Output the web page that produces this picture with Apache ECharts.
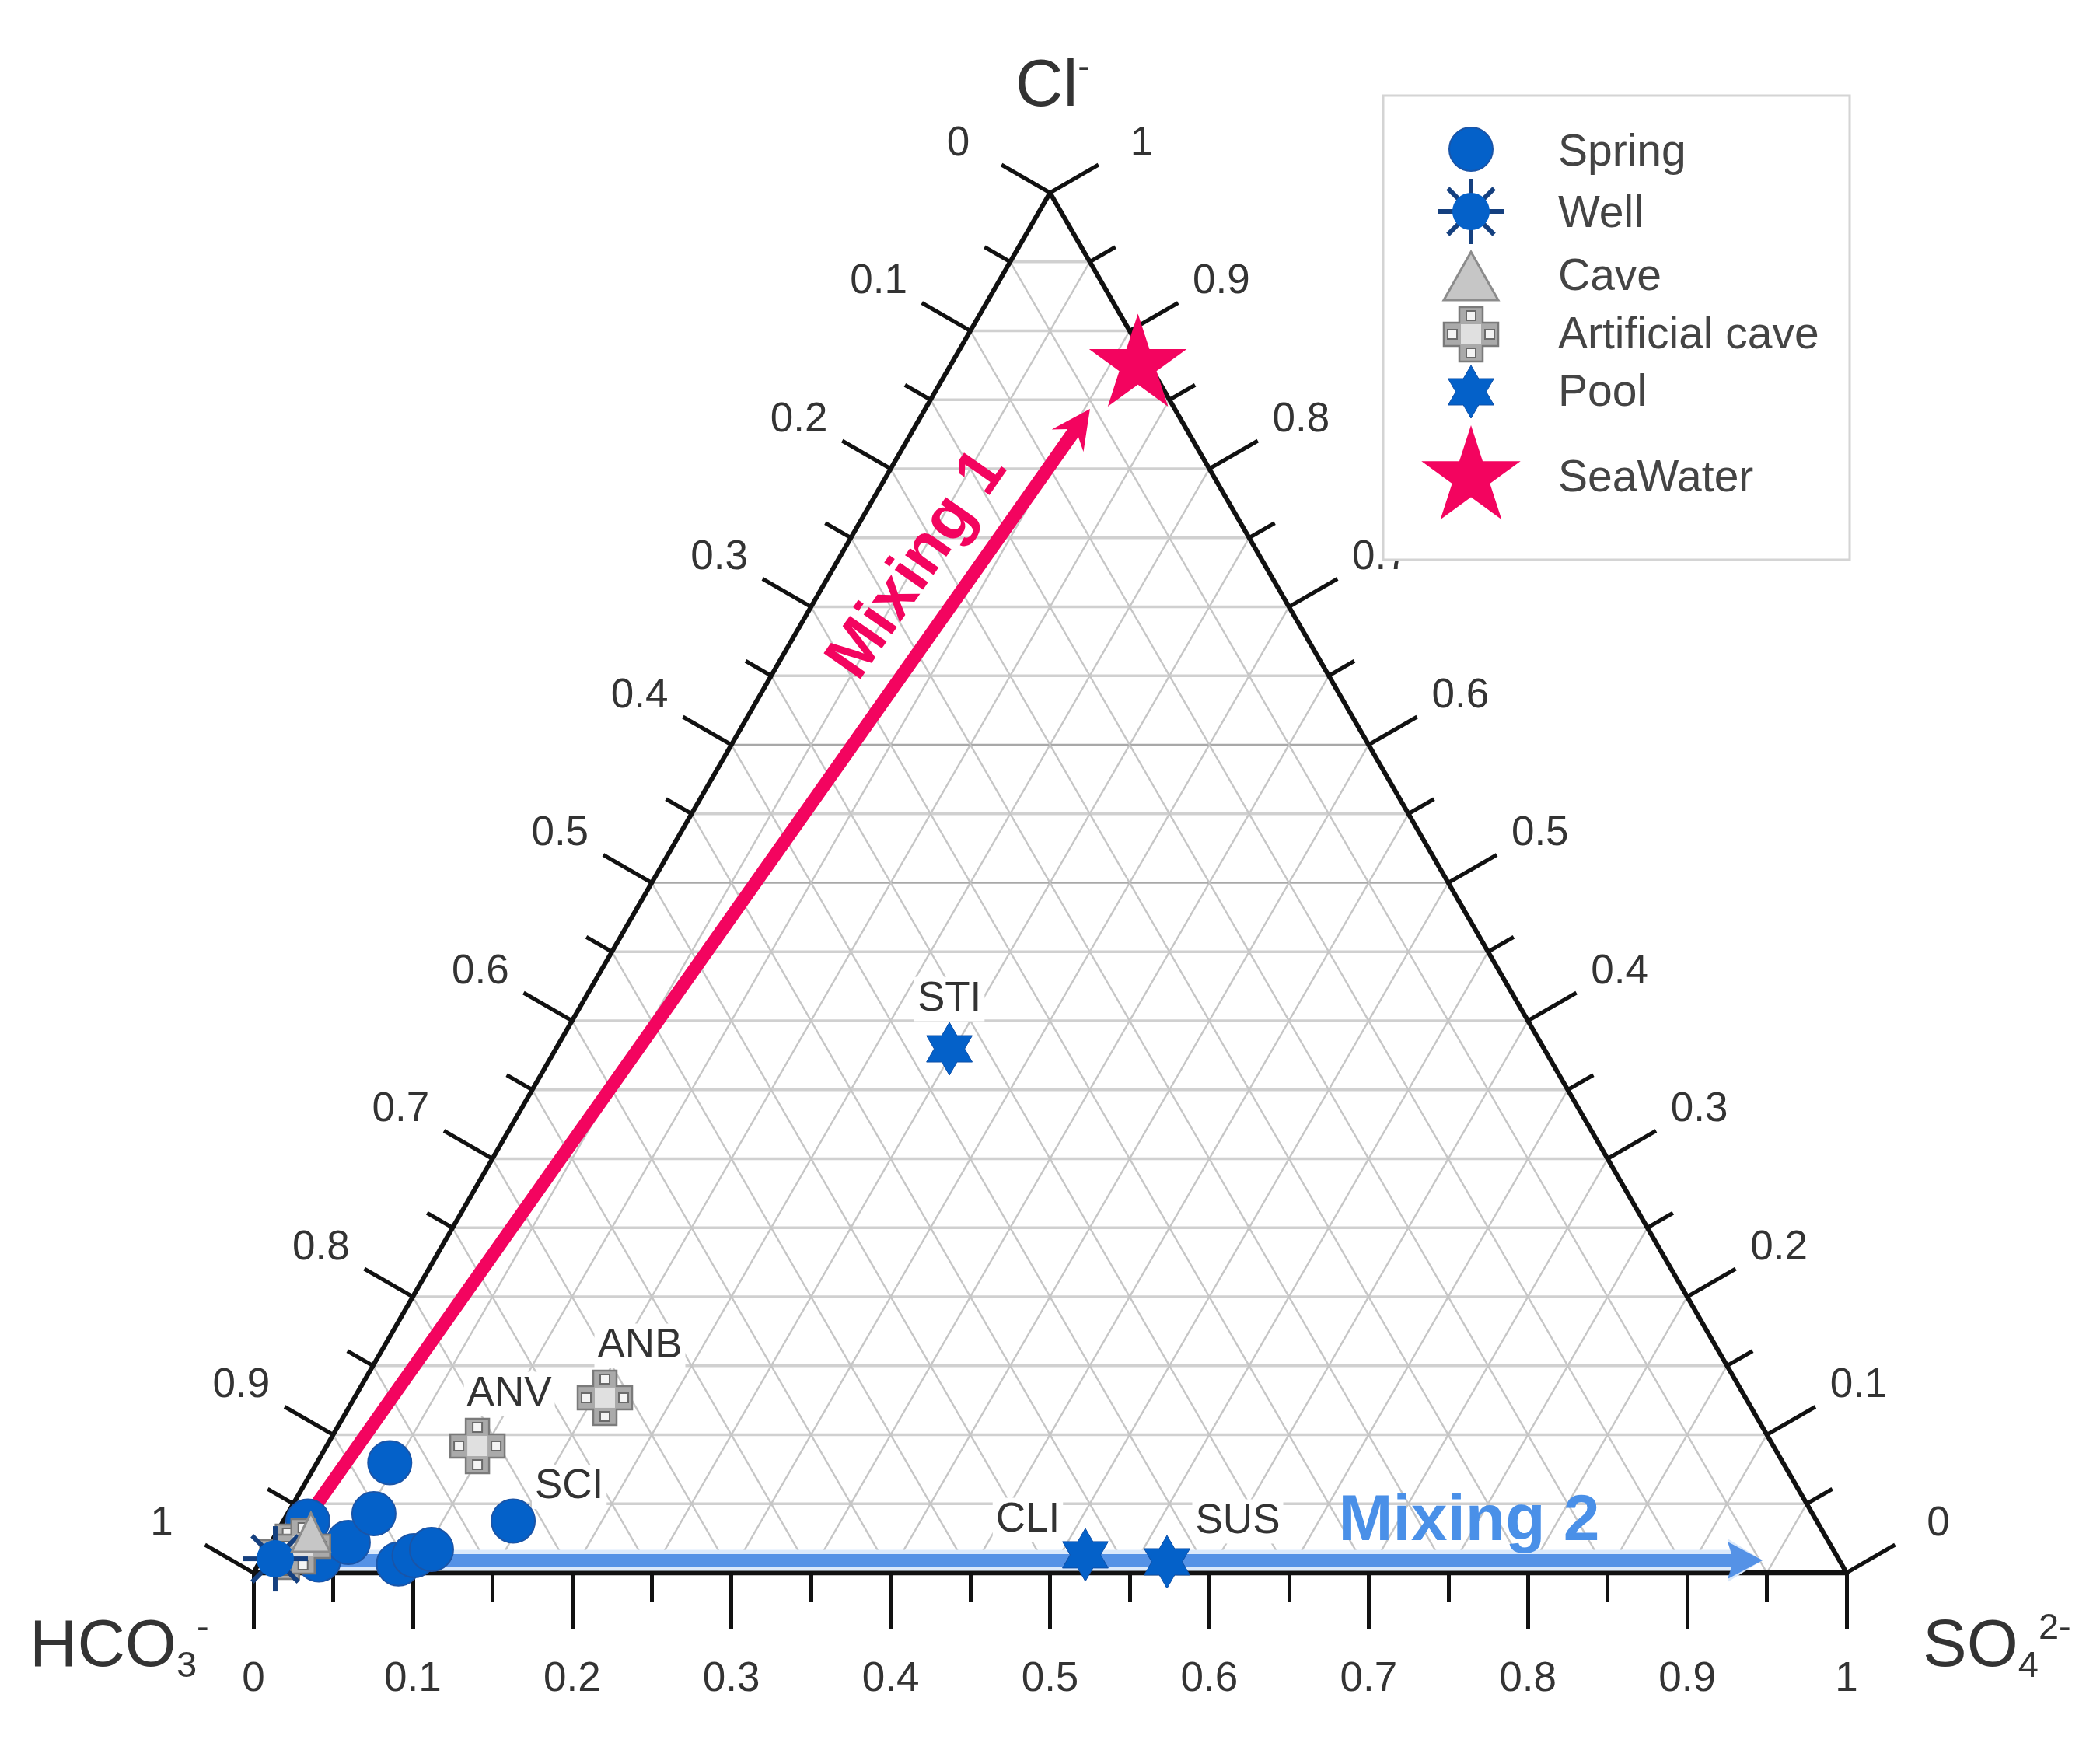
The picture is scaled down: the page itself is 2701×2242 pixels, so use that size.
<!DOCTYPE html>
<html><head><meta charset="utf-8">
<style>html,body{margin:0;padding:0;background:#fff}#c{width:2701px;height:2242px}</style>
<script src="https://cdn.jsdelivr.net/npm/echarts@6/dist/echarts.min.js"></script>
</head><body><div id="c"></div>
<script>
// ---- data: ternary fractions [SO4, Cl] ----
const bottomTicks = ['0','0.1','0.2','0.3','0.4','0.5','0.6','0.7','0.8','0.9','1'];
const leftTicks   = ['0','0.1','0.2','0.3','0.4','0.5','0.6','0.7','0.8','0.9','1'];
const rightTicks  = ['1','0.9','0.8','0.7','0.6','0.5','0.4','0.3','0.2','0.1','0'];
const gridLevels  = [0.05,0.1,0.15,0.2,0.25,0.3,0.35,0.4,0.45,0.5,0.55,0.6,0.65,0.7,0.75,0.8,0.85,0.9,0.95];
const thinHorizontalLevels = [0.5,0.6];
const tickLevels  = [0,0.05,0.1,0.15,0.2,0.25,0.3,0.35,0.4,0.45,0.5,0.55,0.6,0.65,0.7,0.75,0.8,0.85,0.9,0.95,1];
const spring = [[0.0154,0.0375],[0.0364,0.0093],[0.0485,0.022],[0.0457,0.0797],[0.0542,0.0428],[0.0878,0.0064],[0.0946,0.0124],[0.1033,0.0169],[0.1443,0.0375]];
const well = [[0.0086,0.0101]];
const cave = [[0.0214,0.0293]];
const artificialCave = [[0.0137,0.0152],[0.0215,0.0192],[0.0947,0.0918],[0.1572,0.1268]];
const pool = [[0.247,0.3797],[0.5157,0.013],[0.5695,0.0079]];
const seaWater = [[0.1176,0.8752]];
const sampleNames = ['ANB','ANV','SCI','STI','CLI','SUS'];
const samplePoints = [[0.1572,0.1268],[0.0947,0.0918],[0.1443,0.0375],[0.247,0.3797],[0.5157,0.013],[0.5695,0.0079]];
const mixing1Arrow = [[0.0142,0.0439],[0.1034,0.8434]];
const mixing2Arrow = [[0.0219,0.009],[0.9428,0.009]];
const annotationNames = ['Mixing 1','Mixing 2'];
const annotationPoints = [[0.0522,0.7301],[0.7447,0.0367]];
const legendNames = ['Spring','Well','Cave','Artificial cave','Pool','SeaWater'];

// ---- styling ----
const FONT = '"Liberation Sans", Arial, sans-serif';
const BLUE = '#0461c9', PINK = '#f3045f', TXT = '#333';
const sampleOffsets = {ANB:[45,-67],ANV:[41,-67],SCI:[72,-44],STI:[0,-64],CLI:[-74,-45],SUS:[91,-52]};
const TICK_MAJOR = 72, TICK_MINOR = 38;
const COS30 = Math.cos(Math.PI/6);

const tern = (so4, cl) => [so4 + cl/2, cl];

function starPts(x,y,n,R,r){
  const p=[];
  for(let i=0;i<2*n;i++){const a=-Math.PI/2+i*Math.PI/n,q=i%2?r:R;p.push([x+q*Math.cos(a),y+q*Math.sin(a)]);}
  return p;
}
const symbols = {
  spring:(x,y)=>[{type:'circle',shape:{cx:x,cy:y,r:28},style:{fill:BLUE,stroke:'#1a55a8',lineWidth:2}}],
  well:(x,y)=>{
    const out=[];
    for(let i=0;i<8;i++){const a=i*Math.PI/4;
      out.push({type:'line',shape:{x1:x+20*Math.cos(a),y1:y+20*Math.sin(a),x2:x+42*Math.cos(a),y2:y+42*Math.sin(a)},style:{stroke:'#15407f',lineWidth:6}});}
    out.push({type:'circle',shape:{cx:x,cy:y,r:24},style:{fill:BLUE}});
    return out;
  },
  triangle:(x,y,w,h)=>[{type:'polygon',shape:{points:[[x,y-h/2],[x+w/2,y+h/2],[x-w/2,y+h/2]]},style:{fill:'#c6c6c6',stroke:'#8c8c8c',lineWidth:3,lineJoin:'miter'}}],
  cross:(x,y)=>{
    const L=35,a=15,o=24,s=6;
    const out=[{type:'polygon',shape:{points:[[x-a,y-L],[x+a,y-L],[x+a,y-a],[x+L,y-a],[x+L,y+a],[x+a,y+a],[x+a,y+L],[x-a,y+L],[x-a,y+a],[x-L,y+a],[x-L,y-a],[x-a,y-a]]},style:{fill:'#aaaaaa',stroke:'#7a7a7a',lineWidth:2.5}},
      {type:'rect',shape:{x:x-13,y:y-13,width:26,height:26},style:{fill:'#e0e0e0'}}];
    [[0,-o],[0,o],[-o,0],[o,0]].forEach(d=>out.push({type:'rect',shape:{x:x+d[0]-s,y:y+d[1]-s,width:2*s,height:2*s},style:{fill:'#f4f4f4',stroke:'#6a6a6a',lineWidth:2}}));
    return out;
  },
  hexagram:(x,y)=>[{type:'polygon',shape:{points:starPts(x,y,6,34,19.6)},style:{fill:BLUE,stroke:'#0d4fa8',lineWidth:1}}],
  star:(x,y,R)=>[{type:'polygon',shape:{points:starPts(x,y,5,R,R*0.382)},style:{fill:PINK}}]
};

// ---- series helpers ----
function pointSeries(name,data,z,draw){
  return {type:'custom',name,coordinateSystem:'cartesian2d',silent:true,clip:false,z,data:data.map(d=>tern(d[0],d[1])),
    renderItem:(p,api)=>{const c=api.coord([api.value(0),api.value(1)]);return {type:'group',children:draw(c[0],c[1])};}};
}
function levelSeries(name,levels,z,renderItem){
  return {type:'custom',name,coordinateSystem:'cartesian2d',silent:true,clip:false,z,data:levels.map(v=>[v,0]),renderItem};
}
const seg=(api,a,b,stroke,lineWidth)=>{
  const p=api.coord(tern(a[0],a[1])),q=api.coord(tern(b[0],b[1]));
  return {type:'line',shape:{x1:p[0],y1:p[1],x2:q[0],y2:q[1]},style:{stroke,lineWidth}};
};
function arrowSeries(name,pts,color,width,len,half,notch,z,opacity){
  return {type:'custom',name,coordinateSystem:'cartesian2d',silent:true,clip:false,z,
    data:[tern(pts[0][0],pts[0][1]).concat(tern(pts[1][0],pts[1][1]))],
    renderItem:(p,api)=>{
      const a=api.coord([api.value(0),api.value(1)]),b=api.coord([api.value(2),api.value(3)]);
      const L=Math.hypot(b[0]-a[0],b[1]-a[1]),ux=(b[0]-a[0])/L,uy=(b[1]-a[1])/L,nx=-uy,ny=ux;
      const bx=b[0]-ux*len,by=b[1]-uy*len,sx=b[0]-ux*notch,sy=b[1]-uy*notch;
      return {type:'group',children:[
        {type:'polygon',shape:{points:[
          [a[0]+nx*width/2,a[1]+ny*width/2],[sx+nx*width/2,sy+ny*width/2],[bx+nx*half,by+ny*half],b,
          [bx-nx*half,by-ny*half],[sx-nx*width/2,sy-ny*width/2],[a[0]-nx*width/2,a[1]-ny*width/2]]},
         style:{fill:color,opacity}}]};
    }};
}

const series=[
  // triangular grid
  levelSeries('grid',gridLevels,1,(p,api)=>{
    const v=api.value(0),thin=thinHorizontalLevels.indexOf(v)>=0;
    return {type:'group',children:[
      thin?seg(api,[0,v],[1-v,v],'#a8a8a8',2.5):seg(api,[0,v],[1-v,v],'#d0d0d0',3.5),
      seg(api,[v,0],[v,1-v],'#c6c6c6',2.5),
      seg(api,[v,0],[0,v],'#c6c6c6',2.5)]};
  }),
  // sample labels (white box masks the grid)
  {type:'custom',name:'labels',coordinateSystem:'cartesian2d',silent:true,clip:false,z:2,
    data:samplePoints.map(d=>tern(d[0],d[1])),
    renderItem:(p,api)=>{
      const n=sampleNames[p.dataIndex],c=api.coord([api.value(0),api.value(1)]),o=sampleOffsets[n];
      return {type:'text',style:{text:n,x:c[0]+o[0],y:c[1]+o[1],align:'center',verticalAlign:'middle',fill:TXT,font:'53px '+FONT,backgroundColor:'#fff',padding:[2,4]}};
    }},
  // triangle sides with their ticks and labels
  levelSeries('sides',[0],3,(p,api)=>({type:'group',children:[
    seg(api,[0,0],[0,1],'#111',6),seg(api,[0,1],[1,0],'#111',6),seg(api,[0,0],[1,0],'#111',6.5)]})),
  levelSeries('leftAxis',tickLevels,3,(p,api)=>{
    const f=api.value(0),i=p.dataIndex,c=api.coord(tern(0,1-f)),major=i%2===0,t=major?TICK_MAJOR:TICK_MINOR;
    const ch=[{type:'line',shape:{x1:c[0],y1:c[1],x2:c[0]-t*COS30,y2:c[1]-t/2},style:{stroke:'#111',lineWidth:5}}];
    if(major)ch.push({type:'text',style:{text:leftTicks[i/2],x:c[0]-118,y:c[1]-63,align:'center',verticalAlign:'middle',fill:TXT,font:'53px '+FONT}});
    return {type:'group',children:ch};
  }),
  levelSeries('rightAxis',tickLevels,3,(p,api)=>{
    const f=api.value(0),i=p.dataIndex,c=api.coord(tern(f,1-f)),major=i%2===0,t=major?TICK_MAJOR:TICK_MINOR;
    const ch=[{type:'line',shape:{x1:c[0],y1:c[1],x2:c[0]+t*COS30,y2:c[1]-t/2},style:{stroke:'#111',lineWidth:5}}];
    if(major)ch.push({type:'text',style:{text:rightTicks[i/2],x:c[0]+118,y:c[1]-63,align:'center',verticalAlign:'middle',fill:TXT,font:'53px '+FONT}});
    return {type:'group',children:ch};
  }),
  arrowSeries('Mixing 2 arrow',mixing2Arrow,'#dbe9fb',27,45,28,40,4,1),
  arrowSeries('Mixing 2',mixing2Arrow,'#4a8ae4',16,45,24,40,4,0.92),
  arrowSeries('Mixing 1',mixing1Arrow,PINK,17,50,25,38,4,1),
  {type:'custom',name:'mixingLabels',coordinateSystem:'cartesian2d',silent:true,clip:false,z:5,
    data:annotationPoints.map(d=>tern(d[0],d[1])),
    renderItem:(p,api)=>{
      const c=api.coord([api.value(0),api.value(1)]),first=p.dataIndex===0;
      return {type:'text',x:c[0],y:c[1],rotation:first?55*Math.PI/180:0,
        style:{text:annotationNames[p.dataIndex],align:'center',verticalAlign:'middle',fill:first?PINK:'#4a90e8',font:'bold 84px '+FONT}};
    }},
  pointSeries('Spring',spring,6,symbols.spring),
  pointSeries('Artificial cave',artificialCave,7,symbols.cross),
  pointSeries('Well',well,8,symbols.well),
  pointSeries('Cave',cave,9,(x,y)=>symbols.triangle(x,y,49,50)),
  pointSeries('Pool',pool,10,symbols.hexagram),
  pointSeries('SeaWater',seaWater,11,(x,y)=>symbols.star(x,y,66))
];

// ---- legend and end-member titles ----
const LX=1892, TX=2004;
const legendKeys=[
  symbols.spring(LX,192),symbols.well(LX,272),symbols.triangle(LX,355,70,62),
  symbols.cross(LX,430),symbols.hexagram(LX,504),symbols.star(LX,614,67)];
const legendTextY=[197,276,357,432,506,616];
const lz=o=>Object.assign(o,{z:100,silent:true});
const legendEls=[lz({type:'rect',shape:{x:1779,y:123,width:600,height:597},style:{fill:'#fff',stroke:'#d4d4d4',lineWidth:3}})];
legendKeys.forEach(k=>k.forEach(e=>legendEls.push(lz(e))));
legendNames.forEach((n,i)=>legendEls.push(lz({type:'text',style:{text:n,x:TX,y:legendTextY[i],verticalAlign:'middle',align:'left',fill:'#444',font:'57px '+FONT}})));

const richTitle={
  m:{fontSize:85,fontFamily:FONT,fill:'#333',lineHeight:96},
  d:{fontSize:47,fontFamily:FONT,fill:'#333',lineHeight:47,verticalAlign:'bottom'},
  u:{fontSize:47,fontFamily:FONT,fill:'#333',lineHeight:47,verticalAlign:'top'}
};
const title=(text,x,y)=>({type:'text',z:100,silent:true,style:{text,x,y,align:'left',verticalAlign:'middle',rich:richTitle}});

const chart=echarts.init(document.getElementById('c'),null,{renderer:'canvas'});
chart.setOption({
  animation:false,
  backgroundColor:'#fff',
  grid:{left:326,top:248,width:2049,height:1775,containLabel:false},
  xAxis:{type:'value',min:0,max:1,interval:0.1,position:'bottom',
    axisLine:{show:false},splitLine:{show:false},
    axisTick:{show:true,length:TICK_MAJOR,lineStyle:{color:'#111',width:5}},
    minorTick:{show:true,splitNumber:2,length:TICK_MINOR,lineStyle:{color:'#111',width:5}},
    minorSplitLine:{show:false},
    axisLabel:{show:true,margin:111,color:TXT,fontSize:53,fontFamily:FONT,hideOverlap:false,showMinLabel:true,showMaxLabel:true,
      formatter:v=>bottomTicks[Math.round(v*10)]}},
  yAxis:{type:'value',min:0,max:1,show:false},
  series,
  graphic:{elements:legendEls.concat([
    title('{m|Cl}{u|-}',1306,113),
    title('{m|HCO}{d|3}{u|-}',38,2120),
    title('{m|SO}{d|4}{u|2-}',2473,2120)
  ])}
});
</script></body></html>
